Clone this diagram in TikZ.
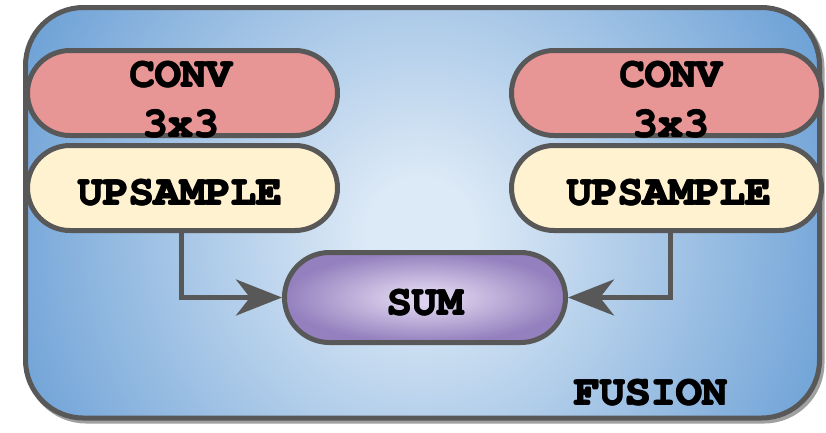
\documentclass[tikz,border=0pt]{standalone}
\usepackage[T1,TU]{fontenc}
\usetikzlibrary{shapes.misc,arrows.meta}

\definecolor{edgegray}{RGB}{88,88,88}
\definecolor{shadowgray}{RGB}{160,160,160}
\definecolor{bgin}{RGB}{220,233,246}
\definecolor{bgout}{RGB}{112,163,215}
\definecolor{bgdeep}{RGB}{100,152,208}
\definecolor{convfill}{RGB}{232,149,150}
\definecolor{upfill}{RGB}{255,242,208}
\definecolor{sumin}{RGB}{220,210,237}
\definecolor{sumout}{RGB}{148,128,190}

% soft light centre fading to blue towards the frame
\pgfdeclareradialshading{fusionbg}{\pgfpoint{0bp}{0bp}}{%
  color(0bp)=(bgin); color(1.5bp)=(bgin); color(12bp)=(bgout); color(25bp)=(bgdeep); color(50bp)=(bgdeep)}
% lilac body of the sum pill
\pgfdeclareradialshading{sumshade}{\pgfpoint{0bp}{0bp}}{%
  color(0bp)=(sumin); color(4bp)=(sumin); color(25bp)=(sumout); color(50bp)=(sumout)}

\newcommand\boldcourier{\fontencoding{T1}\fontfamily{pcr}\fontseries{b}\fontshape{n}\fontsize{42.5}{50}\selectfont}
% heavier strokes: the word is set several times with tiny offsets
\newcommand\heavy[1]{\rlap{#1}\rlap{\raisebox{0.9pt}{#1}}\rlap{\kern1.4pt\raisebox{0.9pt}{#1}}\kern1.4pt#1}

\tikzset{
  pill/.style={rounded rectangle, draw=edgegray, line width=5pt, inner sep=0pt,
    minimum width=310pt, minimum height=85pt},
  convbox/.style={pill, fill=convfill},
  upbox/.style={pill, fill=upfill},
  sumbox/.style={pill, shading=sumshade, minimum width=281pt, minimum height=90pt},
  lbl/.style={font=\boldcourier, text=black, inner sep=0pt, anchor=base},
  link/.style={draw=edgegray, line width=5pt,
    -{Stealth[length=46pt,width=36pt,inset=14pt]}},
}

\begin{document}
\begin{tikzpicture}[x=1pt,y=-1pt]
\useasboundingbox (0,0) rectangle (826,432);

% frame shadow, shaded body and border
\draw[shadowgray, line width=5pt, rounded corners=58pt] (28,10) rectangle (822,421);
\begin{scope}
  \clip[rounded corners=58pt] (25.5,7.5) rectangle (819.5,418);
  \shade[shading=fusionbg] (420,232) circle (900);
\end{scope}
\draw[edgegray, line width=5pt, rounded corners=58pt] (25.5,7.5) rectangle (819.5,418);

% left branch
\node[convbox] (convL) at (182.5,93) {};
\node[upbox]   (upL)   at (182.5,188) {};
% right branch
\node[convbox] (convR) at (666.5,93) {};
\node[upbox]   (upR)   at (666.5,188) {};
% sum
\node[sumbox]  (sum)   at (425,297.5) {};

% labels
\node[lbl] (convLt)  at (181,87)  {\heavy{CONV}};
\node[lbl] (convLk)  at (181,137) {\heavy{3x3}};
\node[lbl] (upLt)    at (180,205) {\heavy{UPSAMPLE}};
\node[lbl] (convRt)  at (671,87)  {\heavy{CONV}};
\node[lbl] (convRk)  at (671,137) {\heavy{3x3}};
\node[lbl] (upRt)    at (669,205) {\heavy{UPSAMPLE}};
\node[lbl] (sumt)    at (425,315) {\heavy{SUM}};
\node[lbl] (fusiont) at (651,405) {\heavy{FUSION}};

% connectors into the sum
\coordinate (outL) at ([xshift=-1.5pt]upL.south);
\coordinate (outR) at ([xshift=3.5pt]upR.south);
\draw[link] (outL) |- (sum.west);
\draw[link] (outR) |- (sum.east);
\end{tikzpicture}
\end{document}
